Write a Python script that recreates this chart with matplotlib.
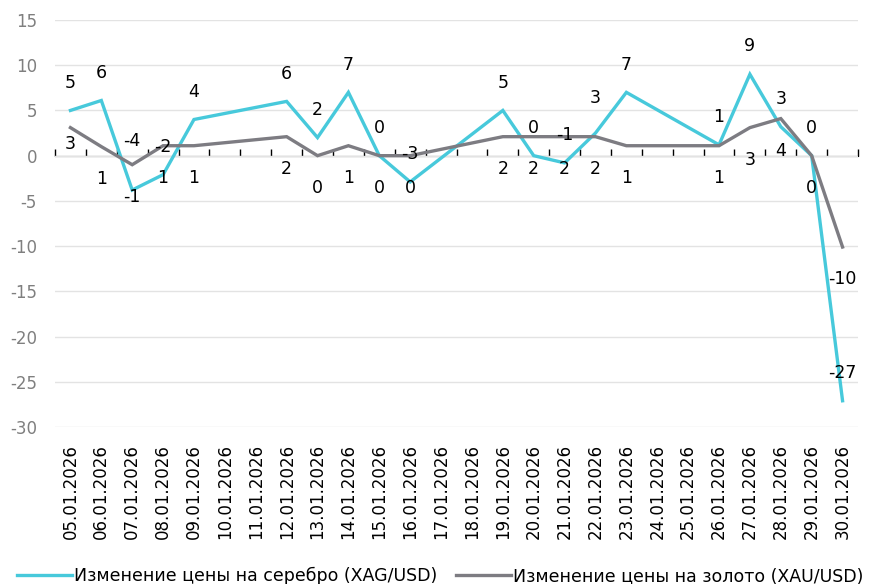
import numpy as np
import matplotlib
matplotlib.use("Agg")
import matplotlib.pyplot as plt

dates = ["05.01.2026", "06.01.2026", "07.01.2026", "08.01.2026", "09.01.2026",
         "10.01.2026", "11.01.2026", "12.01.2026", "13.01.2026", "14.01.2026",
         "15.01.2026", "16.01.2026", "17.01.2026", "18.01.2026", "19.01.2026",
         "20.01.2026", "21.01.2026", "22.01.2026", "23.01.2026", "24.01.2026",
         "25.01.2026", "26.01.2026", "27.01.2026", "28.01.2026", "29.01.2026",
         "30.01.2026"]
silver = [5, 6.1, -3.8, -2.1, 4, None, None, 6, 2, 7, 0, -2.9, None, None,
          5, 0, -0.8, 2.5, 7, None, None, 1.2, 9, 3.2, 0, -27.1]
gold = [3.1, 1, -1, 1.1, 1.1, None, None, 2.1, 0, 1.1, 0, 0, None, None,
        2.1, 2.1, 2.1, 2.1, 1.1, None, None, 1.1, 3.1, 4.1, 0, -10.1]
silver_name = "Изменение цены на серебро (XAG/USD)"
gold_name = "Изменение цены на золото (XAU/USD)"
yticks = [15, 10, 5, 0, -5, -10, -15, -20, -25, -30]

SILVER_C = "#47C9DB"
GOLD_C = "#7D7C82"

plt.rcParams['font.family'] = ['DejaVu Sans']

fig = plt.figure(figsize=(8.75, 5.84), dpi=100)
ax = fig.add_axes([55/875, 1-427/584, (858-55)/875, (427-20)/584])

x = np.arange(len(dates))

def pts(vals):
    xs = [i for i, v in enumerate(vals) if v is not None]
    ys = [vals[i] for i in xs]
    return np.array(xs), np.array(ys, dtype=float)

sx, sy = pts(silver)
gx, gy = pts(gold)

ax.set_ylim(-30, 15)
ax.set_xlim(-0.5, len(dates) - 0.5)
ax.set_yticks(yticks)
ax.yaxis.grid(True, color="#E3E3E3", lw=1.0)
ax.set_axisbelow(True)
for s in ax.spines.values():
    s.set_visible(False)
ax.tick_params(axis='y', length=0, pad=13, labelsize=12, labelcolor="#7F7F7F")
ax.set_yticklabels([str(t) for t in yticks])
ax.set_xticks(x)
ax.set_xticklabels(dates, rotation=90, fontsize=12, color="black")
ax.tick_params(axis='x', length=0, pad=12)

# axis line at zero with category boundary ticks
sec = ax.secondary_xaxis(30/45)
sec.spines['bottom'].set_color("black")
sec.spines['bottom'].set_linewidth(1.0)
sec.set_xticks(np.arange(len(dates) + 1) - 0.5)
sec.set_xticklabels([])
sec.tick_params(axis='x', length=5, width=1.0, color="black", direction='out')

ax.plot(sx, sy, color=SILVER_C, lw=2.4, solid_joinstyle='miter', label=silver_name, zorder=3)
ax.plot(gx, gy, color=GOLD_C, lw=2.4, solid_joinstyle='miter', label=gold_name, zorder=3)

def fmt(v):
    return str(int(np.floor(v + 0.5)))

silver_off = {2: 35, 17: 25}
gold_off = {0: -11.5}
for xi, v in zip(sx, sy):
    ax.annotate(fmt(v), (xi, v), xytext=(0, silver_off.get(int(xi), 20)),
                textcoords='offset points', ha='center', va='center',
                fontsize=12.5, color='black', zorder=4)
for xi, v in zip(gx, gy):
    ax.annotate(fmt(v), (xi, v), xytext=(0, gold_off.get(int(xi), -23)),
                textcoords='offset points', ha='center', va='center',
                fontsize=12.5, color='black', zorder=4)

fig.legend(loc='center', bbox_to_anchor=(0.503, 1-576/584), ncol=2, frameon=False,
           fontsize=12.5, handlelength=3.15, handletextpad=0.12, columnspacing=1.1,
           borderpad=0, borderaxespad=0)

fig.savefig("out.png", dpi=100)
